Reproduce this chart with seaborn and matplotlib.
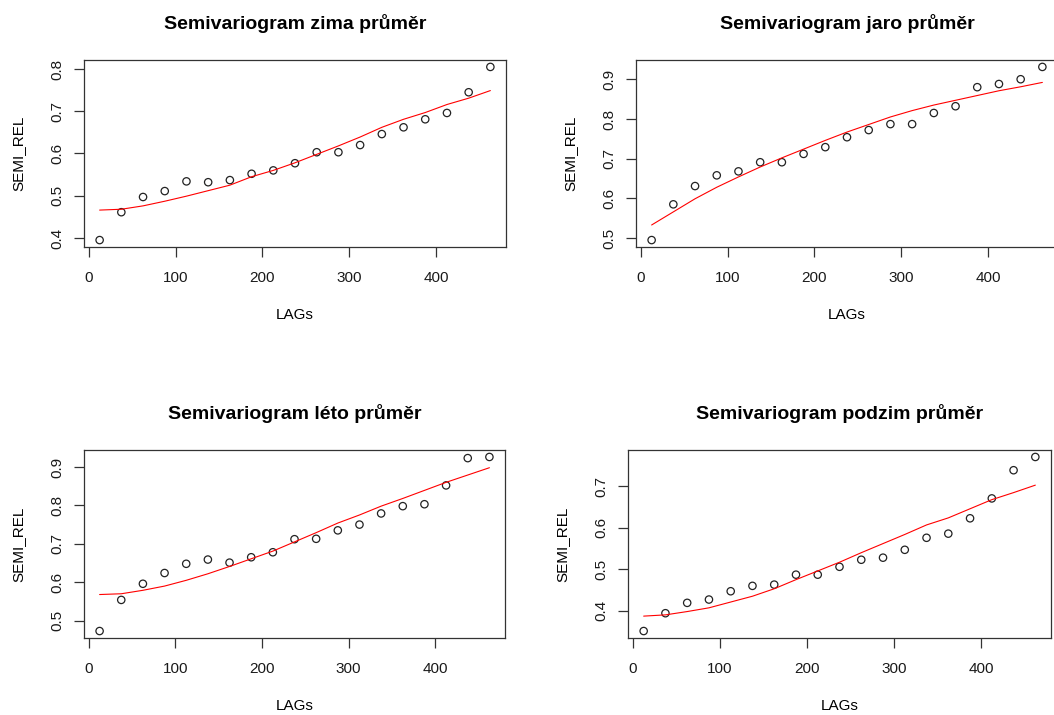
import numpy as np
import pandas as pd
import matplotlib
matplotlib.use('Agg')
import matplotlib.pyplot as plt
import seaborn as sns

# lag distances (same for all four seasons)
lags = [12.5, 37.5, 62.5, 87.5, 112.5, 137.5, 162.5, 187.5, 212.5, 237.5,
        262.5, 287.5, 312.5, 337.5, 362.5, 387.5, 412.5, 437.5, 462.5]

# empirical semivariogram (points)
zima_semi = [0.395, 0.461, 0.497, 0.511, 0.534, 0.532, 0.537, 0.552, 0.560, 0.577,
             0.603, 0.603, 0.620, 0.646, 0.662, 0.681, 0.696, 0.745, 0.805]
jaro_semi = [0.495, 0.585, 0.631, 0.658, 0.668, 0.691, 0.691, 0.712, 0.729, 0.754,
             0.772, 0.787, 0.787, 0.815, 0.832, 0.880, 0.888, 0.900, 0.931]
leto_semi = [0.473, 0.554, 0.596, 0.624, 0.648, 0.659, 0.651, 0.665, 0.678, 0.712,
             0.713, 0.735, 0.750, 0.779, 0.798, 0.803, 0.852, 0.923, 0.926]
podzim_semi = [0.351, 0.394, 0.419, 0.427, 0.447, 0.460, 0.463, 0.487, 0.487, 0.506,
               0.523, 0.528, 0.547, 0.576, 0.586, 0.623, 0.671, 0.739, 0.771]

# smoothed curve (red line)
zima_fit = [0.466, 0.468, 0.476, 0.487, 0.499, 0.512, 0.525, 0.545, 0.560, 0.578,
            0.598, 0.618, 0.639, 0.662, 0.681, 0.697, 0.716, 0.731, 0.749]
jaro_fit = [0.533, 0.566, 0.599, 0.628, 0.654, 0.679, 0.702, 0.724, 0.746, 0.767,
            0.786, 0.805, 0.821, 0.835, 0.847, 0.859, 0.871, 0.881, 0.892]
leto_fit = [0.568, 0.570, 0.579, 0.590, 0.605, 0.622, 0.641, 0.661, 0.681, 0.705,
            0.729, 0.754, 0.775, 0.798, 0.818, 0.839, 0.860, 0.879, 0.898]
podzim_fit = [0.387, 0.390, 0.398, 0.407, 0.421, 0.435, 0.453, 0.475, 0.496, 0.517,
              0.540, 0.562, 0.584, 0.607, 0.624, 0.646, 0.668, 0.685, 0.703]

titles = ['Semivariogram zima průměr', 'Semivariogram jaro průměr',
          'Semivariogram léto průměr', 'Semivariogram podzim průměr']
semis = [zima_semi, jaro_semi, leto_semi, podzim_semi]
fits = [zima_fit, jaro_fit, leto_fit, podzim_fit]

sns.set_style('ticks')
plt.rcParams['font.family'] = ['Liberation Sans', 'DejaVu Sans']
plt.rcParams['text.color'] = 'black'
plt.rcParams['axes.labelcolor'] = 'black'

W, H = 1054, 715
fig = plt.figure(figsize=(W / 100, H / 100), dpi=100)

# axes boxes in pixels: left, top, right, bottom
boxes = [(84, 60, 506, 247), (636, 60, 1058, 247),
         (84, 450, 505, 638), (628, 450, 1051, 638)]

for box, title, semi, fit in zip(boxes, titles, semis, fits):
    l, t, r, b = box
    ax = fig.add_axes([l / W, 1 - b / H, (r - l) / W, (b - t) / H])
    df = pd.DataFrame({'LAGs': lags, 'SEMI_REL': semi, 'fit': fit})
    sns.lineplot(data=df, x='LAGs', y='fit', color='red', linewidth=0.8, ax=ax)
    sns.scatterplot(data=df, x='LAGs', y='SEMI_REL', s=28, marker='o',
                    facecolor='none', edgecolor='#222222', linewidth=0.9, ax=ax)
    ax.margins(x=0.04, y=0.04)
    ax.set_xticks([0, 100, 200, 300, 400])
    for sp in ax.spines.values():
        sp.set_visible(True)
        sp.set_color('#333333')
        sp.set_linewidth(0.9)
    ax.tick_params(length=7, width=0.9, color='#333333', labelsize=11,
                   labelcolor='#1a1a1a')
    ax.tick_params(axis='x', pad=10)
    ax.tick_params(axis='y', pad=7)
    plt.setp(ax.get_yticklabels(), rotation=90, va='center')
    ax.set_title(title, fontsize=14, fontweight='bold', pad=22)
    ax.set_xlabel('LAGs', fontsize=11, va='center')
    ax.set_ylabel('SEMI_REL', fontsize=11, va='center')
    ax.xaxis.set_label_coords(0.5, -68 / (b - t))
    ax.yaxis.set_label_coords(-66 / (r - l), 0.5)

fig.savefig('out.png', dpi=100)
